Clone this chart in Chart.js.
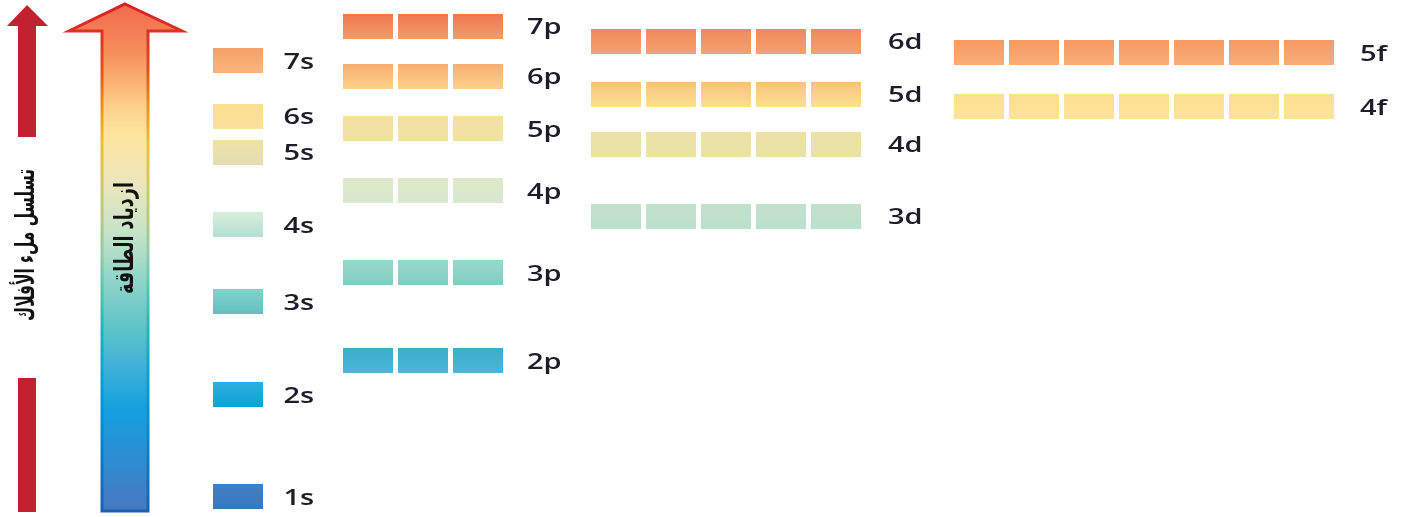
<!DOCTYPE html>
<html>
<head>
<meta charset="utf-8">
<script src="https://cdn.jsdelivr.net/npm/chart.js@4/dist/chart.umd.min.js"></script>
<style>
html,body{margin:0;padding:0;background:#fff;}
#wrap{position:relative;width:1405px;height:517px;}
</style>
</head>
<body>
<div id="wrap"><canvas id="c"></canvas></div>
<script>
// ---- data ----
const orbitals   = ['1s','2s','2p','3s','3p','4s','3d','4p','5s','4d','5p','6s','4f','5d','6p','7s','5f','6d','7p'];
const energies   = [20.5,122.5,156.5,215.5,244.5,292.5,301,326.5,365,373,388.5,401,410.5,423,441,456.5,464.5,476,491];
const boxCounts  = [1,1,3,1,3,1,5,3,1,5,3,1,7,5,3,1,7,5,3];
const leftTitle  = 'تسلسل ملء الأفلاك';
const arrowTitle = 'ازدياد الطاقة';

// ---- styles (separate from data) ----
const orbitalColors = {
  '1s':['#3e82c8','#3a76bf'], '2s':['#2eaee0','#0ea0d8'], '2p':['#3aaccc','#4ab8d8'],
  '3s':['#82d2ca','#5fc2c0'], '3p':['#98d8cc','#84ccc2'], '4s':['#d8eedc','#b6e0d0'],
  '3d':['#c4e2cc','#bae0cf'], '4p':['#dfe9c9','#d6e8cf'], '5s':['#efe2a8','#e5deb2'],
  '4d':['#ece2a2','#e9e2aa'], '5p':['#f6e09e','#f0e2a6'], '6s':['#fddf8e','#fbe29a'],
  '4f':['#fddf8f','#fde39a'], '5d':['#fbc07e','#fde190'], '6p':['#f9ae6e','#fdd08a'],
  '7s':['#f8a066','#fbb67c'], '5f':['#f59a62','#f8ae78'], '6d':['#f2885a','#f6a26e'],
  '7p':['#f0774e','#f59c68']
};
const BOX_W = 50, BOX_H = 25, PITCH = 55;
const groupStartX = {s:237.5, p:368, d:616, f:979};
const labelGap = {s:21, p:24, d:27, f:26};

function boxImage(top, bottom){
  const cv = document.createElement('canvas');
  cv.width = BOX_W; cv.height = BOX_H;
  const g = cv.getContext('2d');
  const gr = g.createLinearGradient(0,0,0,BOX_H);
  gr.addColorStop(0, top); gr.addColorStop(1, bottom);
  g.fillStyle = gr; g.fillRect(0,0,BOX_W,BOX_H);
  return cv;
}

const datasets = orbitals.map((name,i)=>{
  const type = name.slice(-1);
  const pts = [];
  for(let k=0;k<boxCounts[i];k++) pts.push({x: groupStartX[type] + k*PITCH, y: energies[i]});
  const col = orbitalColors[name];
  return {label:name, data:pts, pointStyle: boxImage(col[0], col[1]), pointRadius: 25, clip:false};
});

const decorPlugin = {
  id:'decor',
  beforeDatasetsDraw(chart){
    const ctx = chart.ctx;
    ctx.save();
    // left red arrow (filling order)
    ctx.fillStyle = '#c0232f';
    ctx.beginPath();
    ctx.moveTo(27,5); ctx.lineTo(48,26); ctx.lineTo(36,26); ctx.lineTo(36,137);
    ctx.lineTo(18,137); ctx.lineTo(18,26); ctx.lineTo(7,26); ctx.closePath(); ctx.fill();
    ctx.fillRect(18,378,18,134);
    // gradient energy arrow
    const path = new Path2D();
    path.moveTo(125,4); path.lineTo(182,31); path.lineTo(148,31); path.lineTo(148,511);
    path.lineTo(102,511); path.lineTo(102,31); path.lineTo(69,31); path.closePath();
    const fg = ctx.createLinearGradient(0,4,0,511);
    [[0,'#f06a4c'],[0.1,'#f6905c'],[0.2,'#fcd08a'],[0.26,'#fde6a0'],[0.35,'#ece6bc'],
     [0.45,'#c6e4c8'],[0.55,'#8cd4c8'],[0.64,'#5cc4c8'],[0.72,'#3eb0d8'],[0.8,'#14a0e0'],[1,'#4878c0']]
     .forEach(s=>fg.addColorStop(s[0],s[1]));
    ctx.fillStyle = fg; ctx.fill(path);
    const sg = ctx.createLinearGradient(0,4,0,511);
    [[0,'#d81e24'],[0.12,'#e04a20'],[0.2,'#e8901c'],[0.27,'#eac030'],[0.36,'#cfc86a'],
     [0.5,'#8ccca8'],[0.64,'#20b6b8'],[0.78,'#0098d8'],[1,'#1e5fb0']]
     .forEach(s=>sg.addColorStop(s[0],s[1]));
    ctx.strokeStyle = sg; ctx.lineWidth = 3; ctx.lineJoin='miter'; ctx.stroke(path);
    // rotated Arabic titles
    ctx.fillStyle = '#111';
    ctx.textAlign = 'center'; ctx.textBaseline = 'middle';
    ctx.font = 'bold 26px "DejaVu Sans"';
    const drawVert = (txt, cx, cy, len)=>{
      ctx.save(); ctx.translate(cx,cy); ctx.rotate(-Math.PI/2);
      const w = ctx.measureText(txt).width; const sx = len / w;
      ctx.scale(sx,1); ctx.direction='rtl'; ctx.fillText(txt,0,0); ctx.restore();
    };
    drawVert(leftTitle, 27, 245, 152);
    drawVert(arrowTitle, 126, 238, 112);
    ctx.restore();
  },
  afterDatasetsDraw(chart){
    const ctx = chart.ctx, xs = chart.scales.x, ys = chart.scales.y;
    ctx.save();
    ctx.fillStyle = '#1e1c28';
    ctx.font = '600 21px "Open Sans"';
    ctx.textAlign = 'left'; ctx.textBaseline = 'alphabetic';
    orbitals.forEach((name,i)=>{
      const type = name.slice(-1);
      const lastX = groupStartX[type] + (boxCounts[i]-1)*PITCH;
      const px = xs.getPixelForValue(lastX) + BOX_W/2 + labelGap[type];
      const py = ys.getPixelForValue(energies[i]) + 8;
      ctx.save(); ctx.translate(px, py); ctx.scale(1.38, 1);
      ctx.fillText(name, 0, 0); ctx.restore();
    });
    ctx.restore();
  }
};

new Chart(document.getElementById('c'), {
  type:'scatter',
  data:{datasets},
  options:{
    responsive:true, maintainAspectRatio:false, animation:false, events:[],
    layout:{padding:0, autoPadding:false},
    plugins:{legend:{display:false}, tooltip:{enabled:false}},
    scales:{
      x:{type:'linear', min:0, max:1405, display:false},
      y:{type:'linear', min:0, max:517, display:false}
    }
  },
  plugins:[decorPlugin]
});
</script>
</body>
</html>
